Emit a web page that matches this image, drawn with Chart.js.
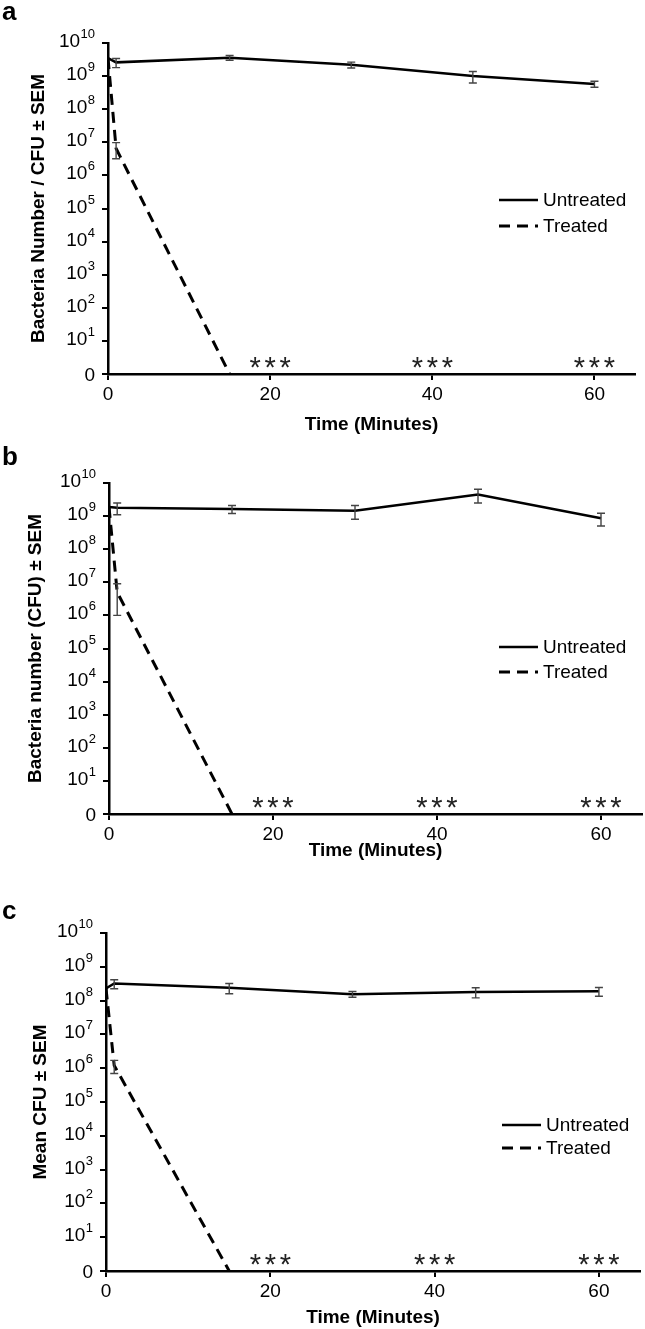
<!DOCTYPE html>
<html>
<head>
<meta charset="utf-8">
<script src="https://cdn.jsdelivr.net/npm/chart.js@4.4.1/dist/chart.umd.min.js"></script>
<style>
  html, body { margin: 0; padding: 0; background: #fff; }
  #page { position: relative; width: 645px; height: 1329px; }
  .panel { position: absolute; left: 0; width: 645px; }
</style>
</head>
<body>
<div id="page">
  <div class="panel" style="top:0;height:440px"><canvas id="chartA"></canvas></div>
  <div class="panel" style="top:440px;height:430px"><canvas id="chartB"></canvas></div>
  <div class="panel" style="top:880px;height:449px"><canvas id="chartC"></canvas></div>
</div>
<script>
// time points (minutes)
const timesUntreated = [0, 1, 15, 30, 45, 60];
const timesTreated = [0, 1, 15];
const sigTimes = [20, 40, 60];      // where the *** marks sit
const xTicks = [0, 20, 40, 60];
const yTickValues = [1, 1e1, 1e2, 1e3, 1e4, 1e5, 1e6, 1e7, 1e8, 1e9, 1e10];
const yTickLabels = ["0", "10^1", "10^2", "10^3", "10^4", "10^5", "10^6", "10^7", "10^8", "10^9", "10^10"];

// panel a
const untreatedA = [3.5e9, 2.6e9, 3.6e9, 2.2e9, 1.0e9, 5.8e8];
const untreatedSemA = [null, 0.8e9, 0.6e9, 0.45e9, 0.38e9, 1.2e8];
const treatedA = [3.5e9, 6.5e6, 0];
const treatedSemA = [null, 3.3e6, null];

// panel b
const untreatedB = [1.9e9, 1.8e9, 1.65e9, 1.45e9, 4.5e9, 8.6e8];
const untreatedSemB = [null, 0.7e9, 0.45e9, 0.65e9, 2.0e9, 3.6e8];
const treatedB = [1.9e9, 5e6, 0];
const treatedSemB = [null, 4e6, null];

// panel c
const untreatedC = [2.3e8, 3.2e8, 2.4e8, 1.55e8, 1.8e8, 1.9e8];
const untreatedSemC = [null, 0.95e8, 0.8e8, 0.3e8, 0.6e8, 0.55e8];
const treatedC = [2.3e8, 1.2e6, 0];
const treatedSemC = [null, 0.5e6, null];

const FONT = '"Liberation Sans", Arial, Helvetica, sans-serif';
const LOG_FLOOR = 1; // a count of 0 is drawn on the axis floor, labelled "0"

Chart.defaults.font.family = FONT;
Chart.defaults.color = "#000";

function to_points(times, values) {
  return times.map((t, i) => ({ x: t, y: Math.max(values[i], LOG_FLOOR) }));
}

const panelDecor = {
  id: "panelDecor",
  afterDatasetsDraw(chart) {
    const { ctx } = chart;
    const x = chart.scales.x, y = chart.scales.y;
    ctx.save();
    ctx.strokeStyle = "#444";
    ctx.lineWidth = 1.4;
    chart.data.datasets.forEach(ds => {
      (ds.sem || []).forEach((e, i) => {
        if (e == null) return;
        const pt = ds.data[i];
        const px = x.getPixelForValue(pt.x);
        const top = y.getPixelForValue(pt.y + e);
        const bot = y.getPixelForValue(Math.max(pt.y - e, LOG_FLOOR));
        ctx.beginPath();
        ctx.moveTo(px, top); ctx.lineTo(px, bot);
        ctx.moveTo(px - 4, top); ctx.lineTo(px + 4, top);
        ctx.moveTo(px - 4, bot); ctx.lineTo(px + 4, bot);
        ctx.stroke();
      });
    });
    ctx.restore();
  },
  afterDraw(chart, args, opts) {
    const { ctx } = chart;
    const x = chart.scales.x, y = chart.scales.y;
    ctx.save();
    ctx.fillStyle = "#000";

    // y tick labels with superscript exponents
    const right = y.right - 13;
    yTickValues.forEach((v, i) => {
      const py = y.getPixelForValue(v);
      const [base, exp] = yTickLabels[i].split("^");
      ctx.textAlign = "right";
      ctx.textBaseline = "alphabetic";
      if (exp === undefined) {
        ctx.font = "19px " + FONT;
        ctx.fillText(base, right, py + 7);
        return;
      }
      ctx.font = "13px " + FONT;
      const ew = ctx.measureText(exp).width;
      ctx.fillText(exp, right, py - 5);
      ctx.font = "19px " + FONT;
      ctx.fillText(base, right - ew - 0.5, py + 4);
    });

    // significance marks
    ctx.font = "29px " + FONT;
    ctx.fillStyle = "#222";
    ctx.textAlign = "center";
    ctx.textBaseline = "alphabetic";
    const m = ctx.measureText("*");
    const yBase = y.getPixelForValue(LOG_FLOOR) - 12 +
      (m.actualBoundingBoxAscent - m.actualBoundingBoxDescent) / 2;
    sigTimes.forEach(t => {
      const cx = x.getPixelForValue(t);
      for (let k = -1; k <= 1; k++) ctx.fillText("*", cx + k * 15, yBase);
    });
    ctx.fillStyle = "#000";

    // legend
    ctx.font = "19px " + FONT;
    ctx.textAlign = "left";
    ctx.textBaseline = "middle";
    chart.data.datasets.forEach((ds, i) => {
      const ly = opts.legendY + i * opts.legendGap;
      ctx.strokeStyle = "#000";
      ctx.lineWidth = ds.borderWidth;
      ctx.setLineDash(ds.borderDash || []);
      ctx.beginPath();
      ctx.moveTo(opts.legendX, ly);
      ctx.lineTo(opts.legendX + 39, ly);
      ctx.stroke();
      ctx.setLineDash([]);
      ctx.fillText(ds.label, opts.legendX + 44, ly + 1);
    });

    // panel letter
    ctx.font = "bold 26px " + FONT;
    ctx.textBaseline = "alphabetic";
    ctx.fillText(opts.letter, 2, opts.letterY);
    ctx.restore();
  }
};

function create_chart(id, p) {
  new Chart(document.getElementById(id), {
    type: "line",
    data: {
      datasets: [
        {
          label: "Untreated",
          data: to_points(timesUntreated, p.untreated),
          sem: p.untreatedSem,
          borderColor: "#000",
          borderWidth: 2.5,
          pointRadius: 0,
          tension: 0
        },
        {
          label: "Treated",
          data: to_points(timesTreated, p.treated),
          sem: p.treatedSem,
          borderColor: "#000",
          borderWidth: 3,
          borderDash: [11, 7],
          pointRadius: 0,
          tension: 0
        }
      ]
    },
    options: {
      responsive: true,
      maintainAspectRatio: false,
      animation: false,
      devicePixelRatio: 1,
      layout: { padding: { top: p.padTop, right: p.padRight, bottom: 0, left: 0 } },
      plugins: {
        legend: { display: false },
        tooltip: { enabled: false },
        panelDecor: {
          letter: p.letter, letterY: p.letterY,
          legendX: p.legendX, legendY: p.legendY, legendGap: p.legendGap
        }
      },
      scales: {
        x: {
          type: "linear",
          min: 0,
          max: 65,
          afterBuildTicks: s => { s.ticks = xTicks.map(v => ({ value: v })); },
          afterFit: s => { s.height = p.xAxisHeight; },
          ticks: { font: { size: 19 }, padding: 3, color: "#000" },
          grid: { drawOnChartArea: false, drawTicks: true, tickLength: 6, color: "#000", lineWidth: 2 },
          border: { color: "#000", width: 2.5 },
          title: {
            display: true,
            text: "Time (Minutes)",
            font: { size: 19, weight: "bold" },
            padding: { top: 0, bottom: p.xTitlePad }
          }
        },
        y: {
          type: "logarithmic",
          min: 1,
          max: 1e10,
          afterBuildTicks: s => { s.ticks = yTickValues.map(v => ({ value: v })); },
          afterFit: s => { s.width = p.yAxisWidth; },
          ticks: { display: false },
          grid: { drawOnChartArea: false, drawTicks: true, tickLength: 6, color: "#000", lineWidth: 2 },
          border: { color: "#000", width: 2.5 },
          title: {
            display: true,
            text: p.yTitle,
            font: { size: 19, weight: "bold" },
            padding: { top: p.yTitlePad, bottom: 0 }
          }
        }
      }
    },
    plugins: [panelDecor]
  });
}

create_chart("chartA", {
  untreated: untreatedA, untreatedSem: untreatedSemA,
  treated: treatedA, treatedSem: treatedSemA,
  yTitle: "Bacteria Number / CFU \u00b1 SEM",
  letter: "a", letterY: 20,
  padTop: 43, padRight: 10, yAxisWidth: 108, xAxisHeight: 66,
  xTitlePad: 4, yTitlePad: 27,
  legendX: 499, legendY: 200, legendGap: 26
});

create_chart("chartB", {
  untreated: untreatedB, untreatedSem: untreatedSemB,
  treated: treatedB, treatedSem: treatedSemB,
  yTitle: "Bacteria number (CFU) \u00b1 SEM",
  letter: "b", letterY: 25,
  padTop: 43, padRight: 3, yAxisWidth: 109, xAxisHeight: 56,
  xTitlePad: 8, yTitlePad: 24,
  legendX: 499, legendY: 207, legendGap: 25
});

create_chart("chartC", {
  untreated: untreatedC, untreatedSem: untreatedSemC,
  treated: treatedC, treatedSem: treatedSemC,
  yTitle: "Mean CFU \u00b1 SEM",
  letter: "c", letterY: 39,
  padTop: 53, padRight: 5, yAxisWidth: 106, xAxisHeight: 58,
  xTitlePad: 0, yTitlePad: 29,
  legendX: 502, legendY: 245, legendGap: 23
});
</script>
</body>
</html>
